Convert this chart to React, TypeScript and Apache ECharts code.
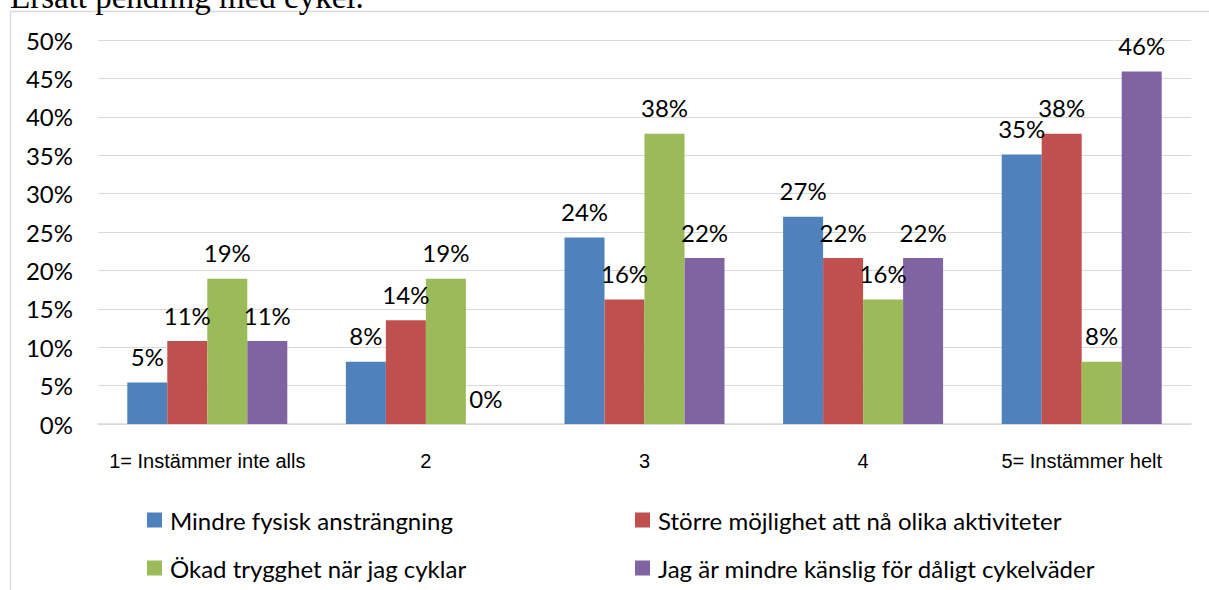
import React, { useEffect, useRef } from "react";
import * as echarts from "echarts";

const categories = ["1= Instämmer inte alls", "2", "3", "4", "5= Instämmer helt"];
const seriesNames = [
  "Mindre fysisk ansträngning",
  "Större möjlighet att nå olika aktiviteter",
  "Ökad trygghet när jag cyklar",
  "Jag är mindre känslig för dåligt cykelväder",
];
const mindreFysisk = [5.4, 8.1, 24.3, 27.0, 35.1];
const storreMojlighet = [10.8, 13.5, 16.2, 21.6, 37.8];
const okadTrygghet = [18.9, 18.9, 37.8, 16.2, 8.1];
const mindreKanslig = [10.8, 0, 21.6, 21.6, 45.9];
const seriesValues = [mindreFysisk, storreMojlighet, okadTrygghet, mindreKanslig];
const colors = ["#4F81BD", "#C0504D", "#9BBB59", "#8064A2"];
const headerText = "Ersätt pendling med cykel.";

const CAL = "Lato, 'Noto Sans', sans-serif";

export default function App() {
  const ref = useRef<HTMLDivElement>(null);
  useEffect(() => {
    document.body.style.margin = "0";
    const chart = echarts.init(ref.current!, undefined, { renderer: "svg" });
    chart.setOption({
      animation: false,
      backgroundColor: "#fff",
      grid: { left: 98, right: 18, top: 40, bottom: 166, containLabel: false },
      legend: [
        {
          data: [seriesNames[0], seriesNames[2]],
          orient: "vertical",
          left: 142,
          top: 500,
          itemWidth: 15,
          itemHeight: 15,
          itemGap: 18,
          icon: "rect",
          selectedMode: false,
          textStyle: { fontFamily: CAL, fontSize: 24, color: "#000", lineHeight: 30, padding: [0, 0, 0, 3] },
        },
        {
          data: [seriesNames[1], seriesNames[3]],
          orient: "vertical",
          left: 630,
          top: 500,
          itemWidth: 15,
          itemHeight: 15,
          itemGap: 18,
          icon: "rect",
          selectedMode: false,
          textStyle: { fontFamily: CAL, fontSize: 24, color: "#000", lineHeight: 30, padding: [0, 0, 0, 3] },
        },
      ],
      xAxis: {
        type: "category",
        data: categories,
        axisLine: { show: true, lineStyle: { color: "#D9D9D9", width: 1.5 } },
        axisTick: { show: false },
        axisLabel: {
          margin: 27,
          fontFamily: "'Liberation Sans', Arial, sans-serif",
          fontSize: 20,
          color: "#000",
          interval: 0,
        },
      },
      yAxis: {
        type: "value",
        min: 0,
        max: 50,
        interval: 5,
        axisLine: { show: false },
        axisTick: { show: false },
        splitLine: { lineStyle: { color: "#D9D9D9", width: 1.2 } },
        axisLabel: {
          formatter: "{value}%",
          margin: 25,
          fontFamily: CAL,
          fontSize: 24,
          color: "#000",
        },
      },
      series: seriesValues.map((vals, i) => ({
        name: seriesNames[i],
        type: "bar",
        data: vals,
        barWidth: 40,
        barGap: "0%",
        itemStyle: { color: colors[i] },
        label: {
          show: true,
          position: "top",
          distance: 14,
          formatter: (p: any) => Math.round(p.value) + "%",
          fontFamily: CAL,
          fontSize: 24,
          color: "#000",
        },
      })),
      graphic: [
        {
          type: "rect",
          silent: true,
          shape: { x: 10.5, y: 11.5, width: 1400, height: 800 },
          style: { fill: "none", stroke: "#D9D9D9", lineWidth: 1.3 },
        },
        {
          type: "text",
          silent: true,
          x: 10,
          y: -3,
          style: {
            text: headerText,
            font: "33px 'Liberation Serif', 'Times New Roman', serif",
            fill: "#000",
            verticalAlign: "middle",
          },
        },
      ],
    });
    return () => chart.dispose();
  }, []);
  return <div ref={ref} style={{ width: 1209, height: 590 }} />;
}
